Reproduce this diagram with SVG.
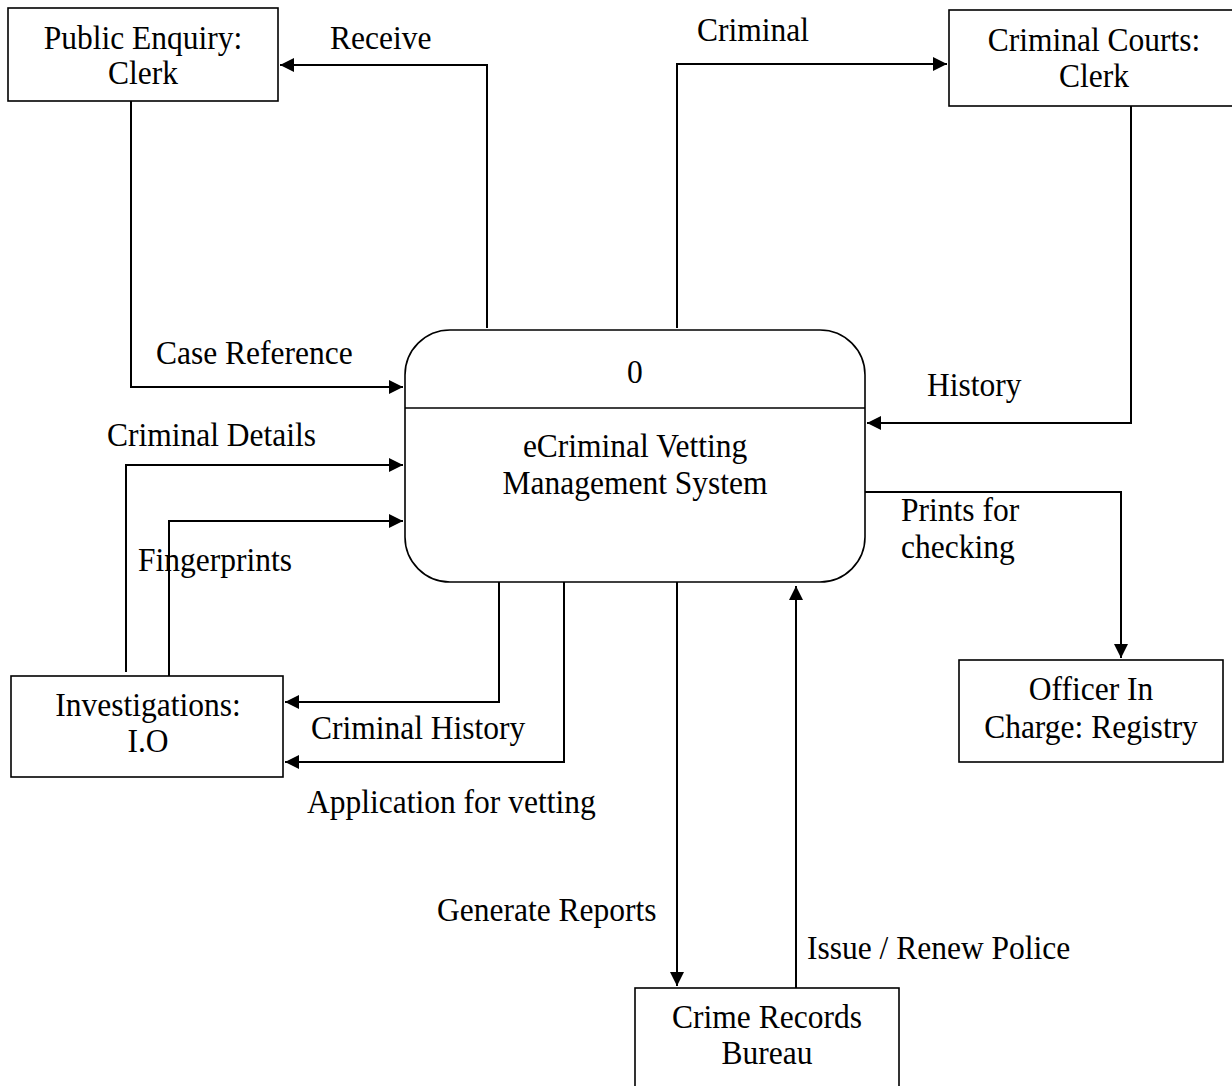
<svg xmlns="http://www.w3.org/2000/svg" width="1232" height="1086" viewBox="0 0 1232 1086">
<style>
.box{fill:#fff;stroke:#000;stroke-width:1.6}
.t{font-family:"Liberation Serif","Times New Roman",serif;font-size:31.5px;fill:#000}
.c{text-anchor:middle}
.ln{fill:none;stroke:#000;stroke-width:2}
</style>
<defs>
<marker id="ah" markerWidth="16" markerHeight="16" refX="14" refY="7" orient="auto" markerUnits="userSpaceOnUse">
<path d="M0,0 L14,7 L0,14 Z" fill="#000"/>
</marker>
</defs>
<rect width="1232" height="1086" fill="#fff"/>
<g id="connectors">
<polyline class="ln" points="487,328 487,65 280,65" marker-end="url(#ah)"/>
<polyline class="ln" points="677,328 677,64 947,64" marker-end="url(#ah)"/>
<polyline class="ln" points="1131,106 1131,423 867,423" marker-end="url(#ah)"/>
<polyline class="ln" points="131,101 131,387 403,387" marker-end="url(#ah)"/>
<polyline class="ln" points="126,672 126,465 403,465" marker-end="url(#ah)"/>
<polyline class="ln" points="169,676 169,521 403,521" marker-end="url(#ah)"/>
<polyline class="ln" points="499,582 499,702 285,702" marker-end="url(#ah)"/>
<polyline class="ln" points="564,582 564,762 285,762" marker-end="url(#ah)"/>
<polyline class="ln" points="865,492 1121,492 1121,658" marker-end="url(#ah)"/>
<polyline class="ln" points="677,582 677,986" marker-end="url(#ah)"/>
<polyline class="ln" points="796,988 796,586" marker-end="url(#ah)"/>
<text class="t" transform="matrix(1,0,0,1.1,330,49)">Receive</text>
<text class="t" transform="matrix(1,0,0,1.1,697,41)">Criminal</text>
<text class="t" transform="matrix(1,0,0,1.1,927,396)">History</text>
<text class="t" transform="matrix(1,0,0,1.1,156,364)">Case Reference</text>
<text class="t" transform="matrix(1,0,0,1.1,107,446)">Criminal Details</text>
<text class="t" transform="matrix(1,0,0,1.1,138,571)">Fingerprints</text>
<text class="t" transform="matrix(1,0,0,1.1,311,739)">Criminal History</text>
<text class="t" transform="matrix(1,0,0,1.1,307,813)">Application for vetting</text>
<text class="t" transform="matrix(1,0,0,1.1,901,521)">Prints for</text>
<text class="t" transform="matrix(1,0,0,1.1,901,558)">checking</text>
<text class="t" transform="matrix(1,0,0,1.1,437,921)">Generate Reports</text>
<text class="t" transform="matrix(1,0,0,1.1,807,959)">Issue / Renew Police</text>
</g>
<g id="public-enquiry">
<rect class="box" x="8" y="8" width="270" height="93"/>
<text class="t c" transform="matrix(1,0,0,1.1,143,49)">Public Enquiry:</text>
<text class="t c" transform="matrix(1,0,0,1.1,143,84)">Clerk</text>
</g>
<g id="criminal-courts">
<rect class="box" x="949" y="10" width="295" height="96"/>
<text class="t c" transform="matrix(1,0,0,1.1,1094,51)">Criminal Courts:</text>
<text class="t c" transform="matrix(1,0,0,1.1,1094,87)">Clerk</text>
</g>
<g id="process-0">
<rect class="box" x="405" y="330" width="460" height="252" rx="45" ry="45"/>
<line x1="405" y1="408" x2="865" y2="408" stroke="#000" stroke-width="1.6"/>
<text class="t c" transform="matrix(1,0,0,1.1,635,383)">0</text>
<text class="t c" transform="matrix(1,0,0,1.1,635,457)">eCriminal Vetting</text>
<text class="t c" transform="matrix(1,0,0,1.1,635,494)">Management System</text>
</g>
<g id="investigations">
<rect class="box" x="11" y="676" width="272" height="101"/>
<text class="t c" transform="matrix(1,0,0,1.1,148,716)">Investigations:</text>
<text class="t c" transform="matrix(1,0,0,1.1,148,752)">I.O</text>
</g>
<g id="officer-in-charge">
<rect class="box" x="959" y="660" width="264" height="102"/>
<text class="t c" transform="matrix(1,0,0,1.1,1091,700)">Officer In</text>
<text class="t c" transform="matrix(1,0,0,1.1,1091,738)">Charge: Registry</text>
</g>
<g id="crime-records">
<rect class="box" x="635" y="988" width="264" height="110"/>
<text class="t c" transform="matrix(1,0,0,1.1,767,1028)">Crime Records</text>
<text class="t c" transform="matrix(1,0,0,1.1,767,1064)">Bureau</text>
</g>
</svg>
